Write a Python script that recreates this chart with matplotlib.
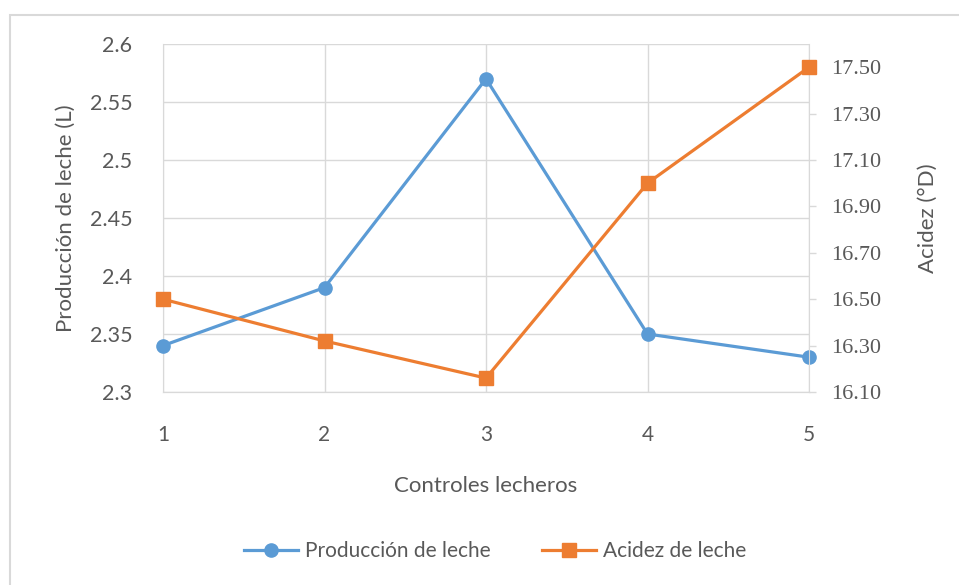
import matplotlib
matplotlib.use("Agg")
import matplotlib.pyplot as plt
from matplotlib.patches import Rectangle

# Datos de los controles lecheros
controles = [1, 2, 3, 4, 5]
produccion = [2.34, 2.39, 2.57, 2.35, 2.33]
acidez = [16.50, 16.32, 16.16, 17.00, 17.50]

y1_ticks = [2.3, 2.35, 2.4, 2.45, 2.5, 2.55, 2.6]
y1_labels = ["2.3", "2.35", "2.4", "2.45", "2.5", "2.55", "2.6"]
y2_ticks = [16.10, 16.30, 16.50, 16.70, 16.90, 17.10, 17.30, 17.50]

AZUL = "#5B9BD5"
NARANJA = "#ED7D31"
TEXTO = "#595959"
REJILLA = "#D9D9D9"
SANS = ["Lato", "DejaVu Sans"]
SERIF = ["Liberation Serif", "DejaVu Serif"]

fig = plt.figure(figsize=(9.59, 5.85), dpi=100)
fig.patches.append(Rectangle((10 / 959, -0.05), 1.2, 1 - 15 / 585 + 0.05,
                             transform=fig.transFigure, fill=False,
                             edgecolor=REJILLA, linewidth=1.5))

ax = fig.add_axes([163 / 959, 1 - 392 / 585, (809 - 163) / 959, (392 - 44) / 585])
ax2 = ax.twinx()

l1, = ax.plot(controles, produccion, color=AZUL, linewidth=2.3, marker="o",
              markersize=9.5, label="Producción de leche", clip_on=False, zorder=3)
l2, = ax2.plot(controles, acidez, color=NARANJA, linewidth=2.3, marker="s",
               markersize=9.5, label="Acidez de leche", clip_on=False, zorder=3)

ax.set_xlim(1, 5)
ax.set_ylim(2.3, 2.6)
ax2.set_ylim(16.1, 17.6)

ax.set_xticks(controles)
ax.set_xticklabels([str(c) for c in controles], fontsize=15, family=SANS, color=TEXTO)
ax.set_yticks(y1_ticks)
ax.set_yticklabels(y1_labels, fontsize=15.5, family=SANS, color=TEXTO)
ax2.set_yticks(y2_ticks)
ax2.set_yticklabels([f"{v:.2f}" for v in y2_ticks], fontsize=16, family=SERIF, color=TEXTO)

ax.tick_params(axis="x", length=0, pad=24)
ax.tick_params(axis="y", length=0, pad=22)
ax2.tick_params(axis="y", length=5, width=1, color=REJILLA, pad=11)

ax.grid(True, color=REJILLA, linewidth=1)
ax.set_axisbelow(True)
for a in (ax, ax2):
    for s in a.spines.values():
        s.set_color(REJILLA)
    a.spines["top"].set_visible(False)
ax2.spines["left"].set_visible(False)
ax.spines["right"].set_visible(False)

ax.set_xlabel("Controles lecheros", fontsize=16, family=SANS, color=TEXTO, labelpad=22)
ax.set_ylabel("Producción de leche (L)", fontsize=16, family=SANS, color=TEXTO, labelpad=10)
ax2.set_ylabel("Acidez (°D)", fontsize=16, family=SANS, color=TEXTO, labelpad=26)

fig.legend(handles=[l1, l2], loc="center", bbox_to_anchor=(495 / 959, 1 - 551 / 585),
           ncol=2, frameon=False, prop={"family": SANS, "size": 15},
           labelcolor=TEXTO, handlelength=2.6, handletextpad=0.3, columnspacing=2.5)

fig.savefig("out.png", dpi=100, facecolor="white")
